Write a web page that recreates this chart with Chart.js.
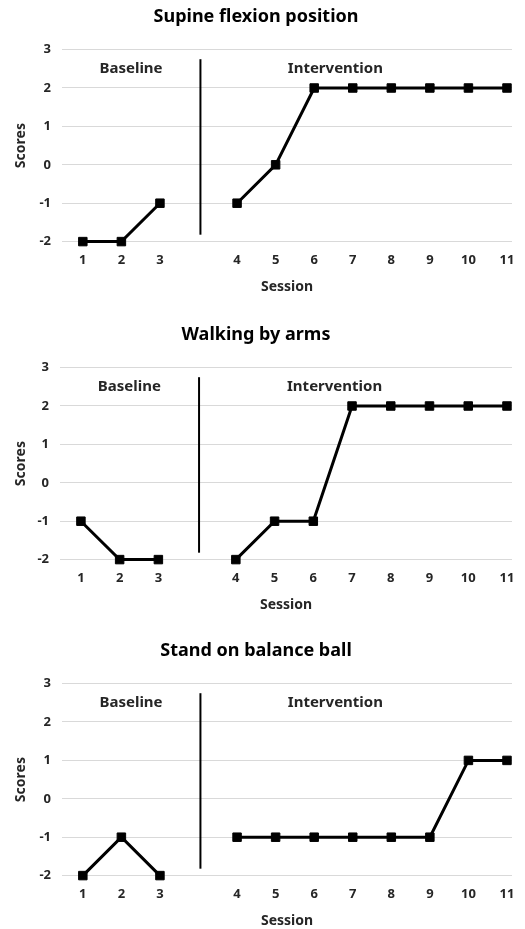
<!DOCTYPE html>
<html>
<head>
<meta charset="utf-8">
<script src="https://cdn.jsdelivr.net/npm/chart.js@4.4.1/dist/chart.umd.min.js"></script>
<style>
  html, body { margin: 0; padding: 0; background: #fff; overflow: hidden; }
  .panel { position: absolute; left: 0; width: 525px; height: 295px; }
</style>
</head>
<body>
<div class="panel" style="top:0px"><canvas id="c0"></canvas></div>
<div class="panel" style="top:318px"><canvas id="c1"></canvas></div>
<div class="panel" style="top:634px"><canvas id="c2"></canvas></div>
<script>
// session slots on the x axis (blank slot = phase change gap)
const xSlots = ['1', '2', '3', '', '4', '5', '6', '7', '8', '9', '10', '11'];

const titles = ['Supine flexion position', 'Walking by arms', 'Stand on balance ball'];

// scores per slot, null at the gap
const supineScores  = [-2, -2, -1, null, -1, 0, 2, 2, 2, 2, 2, 2];
const walkingScores = [-1, -2, -2, null, -2, -1, -1, 2, 2, 2, 2, 2];
const balanceScores = [-2, -1, -2, null, -1, -1, -1, -1, -1, -1, 1, 1];
const allScores = [supineScores, walkingScores, balanceScores];

const yTicks = [-2, -1, 0, 1, 2, 3];
const phaseNames = ['Baseline', 'Intervention'];

const FONT = '"Noto Sans", "Open Sans", sans-serif';
const plotLeft = [62, 60, 62];

// phase line and phase labels, in data units
const phasePlugin = {
  id: 'phase',
  afterDatasetsDraw(chart) {
    const x = chart.scales.x, y = chart.scales.y, ctx = chart.ctx;
    ctx.save();
    ctx.strokeStyle = '#000';
    ctx.lineWidth = 2;
    ctx.beginPath();
    const px = x.getPixelForValue(4.05);
    ctx.moveTo(px, y.getPixelForValue(2.75));
    ctx.lineTo(px, y.getPixelForValue(-1.82));
    ctx.stroke();
    ctx.fillStyle = '#262626';
    ctx.font = 'bold 15px ' + FONT;
    ctx.textAlign = 'center';
    ctx.textBaseline = 'middle';
    ctx.fillText(phaseNames[0], x.getPixelForValue(2.25), y.getPixelForValue(2.5));
    ctx.fillText(phaseNames[1], x.getPixelForValue(7.55), y.getPixelForValue(2.5));
    ctx.restore();
  }
};

allScores.forEach(function(scores, i) {
  const ctx = document.getElementById('c' + i).getContext('2d');
  new Chart(ctx, {
    type: 'line',
    data: {
      datasets: [{
        data: scores.map((v, k) => ({ x: k + 1, y: v })),
        borderColor: '#000',
        backgroundColor: '#000',
        borderWidth: 3,
        pointStyle: 'rect',
        pointRadius: 6,
        pointBorderWidth: 1,
        spanGaps: false,
        tension: 0,
        clip: false
      }]
    },
    options: {
      responsive: true,
      maintainAspectRatio: false,
      animation: false,
      layout: { padding: { left: 0, right: 13, top: 0, bottom: 0 } },
      plugins: {
        legend: { display: false },
        tooltip: { enabled: false },
        title: {
          display: true,
          text: titles[i],
          color: '#000',
          font: { family: FONT, size: 18, weight: 'bold' },
          padding: { top: 6, bottom: 22 }
        }
      },
      scales: {
        x: {
          type: 'linear',
          min: 0.46,
          max: 12.13,
          afterBuildTicks: (s) => { s.ticks = xSlots.map((l, k) => ({ value: k + 1 })); },
          grid: { display: false },
          border: { display: false },
          ticks: {
            padding: 3,
            color: '#262626',
            font: { family: FONT, size: 13, weight: 'bold' },
            callback: (v) => xSlots[v - 1]
          },
          title: {
            display: true,
            text: 'Session',
            color: '#262626',
            font: { family: FONT, size: 14, weight: 'bold' },
            padding: { top: 7, bottom: 0 }
          }
        },
        y: {
          min: -2,
          max: 3,
          afterBuildTicks: (s) => { s.ticks = yTicks.map(v => ({ value: v })); },
          afterFit: (s) => { s.width = plotLeft[i]; },
          grid: { color: '#d9d9d9', lineWidth: 1, drawTicks: false },
          border: { display: false },
          ticks: {
            padding: 11,
            color: '#262626',
            font: { family: FONT, size: 13, weight: 'bold' }
          },
          title: {
            display: true,
            text: 'Scores',
            color: '#262626',
            font: { family: FONT, size: 14, weight: 'bold' },
            padding: { top: 13, bottom: 0 }
          }
        }
      }
    },
    plugins: [phasePlugin]
  });
});
</script>
</body>
</html>
